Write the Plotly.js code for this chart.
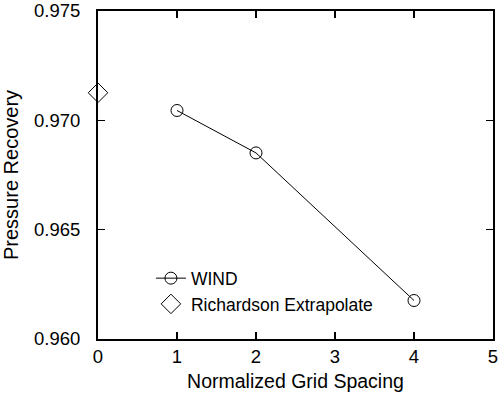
<!DOCTYPE html>
<html>
<head>
<meta charset="utf-8">
<script src="https://cdn.plot.ly/plotly-3.0.1.min.js"></script>
<style>html,body{margin:0;padding:0;background:#fff;}#chart{width:499px;height:394px;}</style>
</head>
<body>
<div id="chart"></div>
<script>
const windX = [1, 2, 4];
const windY = [0.97045, 0.96851, 0.96176];
const richX = [0];
const richY = [0.97126];
const xTicks = [0, 1, 2, 3, 4, 5];
const yTicks = [0.960, 0.965, 0.970, 0.975];

const font = 'Liberation Sans, Arial, Helvetica, sans-serif';

const traces = [
  {
    x: windX, y: windY, name: 'WIND', type: 'scatter', mode: 'lines+markers',
    line: {color: '#000', width: 1},
    marker: {symbol: 'circle-open', size: 12, color: '#000', line: {width: 1}},
    cliponaxis: false
  },
  {
    x: richX, y: richY, name: 'Richardson Extrapolate', type: 'scatter', mode: 'markers',
    marker: {symbol: 'diamond-open', size: 15, color: '#000', line: {width: 1}},
    cliponaxis: false
  }
];

const layout = {
  width: 499, height: 394,
  margin: {l: 98, r: 6, t: 11, b: 55},
  paper_bgcolor: '#fff', plot_bgcolor: '#fff',
  font: {family: font, color: '#000', size: 18},
  showlegend: true,
  legend: {
    x: 0.134, y: 0.24, xanchor: 'left', yanchor: 'top',
    bgcolor: 'rgba(0,0,0,0)', font: {size: 17.5, family: font},
    tracegroupgap: 0, itemwidth: 30
  },
  xaxis: {
    range: [0, 5], tickvals: xTicks, ticktext: xTicks.map(String),
    showgrid: false, zeroline: false,
    showline: true, linecolor: '#000', linewidth: 2, mirror: 'ticks',
    ticks: 'inside', ticklen: 7, tickwidth: 1.5, tickcolor: '#000',
    tickfont: {size: 18.5, family: font},
    ticklabeloverflow: 'allow',
    title: {text: 'Normalized Grid Spacing', font: {size: 19.5, family: font}, standoff: 8}
  },
  yaxis: {
    range: [0.96, 0.97500001], tickvals: yTicks, ticktext: yTicks.map(v => v.toFixed(3)),
    showgrid: false, zeroline: false,
    showline: true, linecolor: '#000', linewidth: 2, mirror: 'ticks',
    ticks: 'inside', ticklen: 7, tickwidth: 1.5, tickcolor: '#000',
    tickfont: {size: 18.5, family: font},
    ticklabelstandoff: 12,
    ticklabeloverflow: 'allow',
    title: {text: 'Pressure Recovery', font: {size: 20, family: font}, standoff: 12}
  }
};

Plotly.newPlot('chart', traces, layout, {staticPlot: true, displayModeBar: false});
</script>
</body>
</html>
